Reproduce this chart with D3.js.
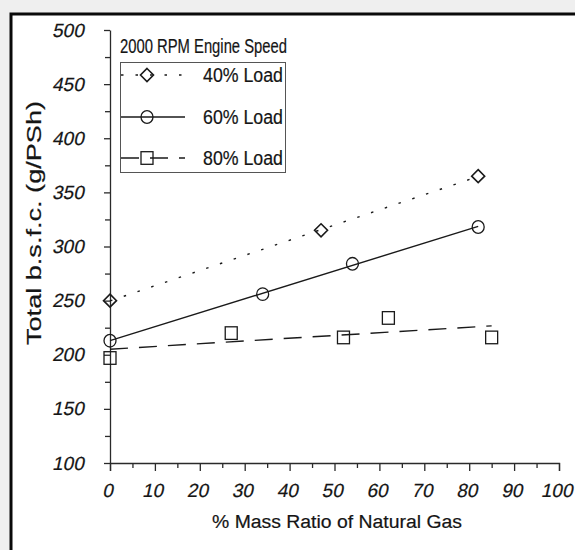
<!DOCTYPE html>
<html>
<head>
<meta charset="utf-8">
<script src="https://cdn.jsdelivr.net/npm/d3@7"></script>
<style>
  html, body { margin: 0; padding: 0; background: #efefef; }
  svg { display: block; }
  text { font-family: "Liberation Sans", Arial, Helvetica, sans-serif; fill: #151515;
         stroke: #151515; stroke-width: 0.2px; }
</style>
</head>
<body>
<svg id="chart" width="575" height="550"></svg>
<script>
// Total brake specific fuel consumption vs natural gas share, 2000 RPM
const seriesNames = ["40% Load", "60% Load", "80% Load"];
const gas40 = [0, 47, 82];
const bsfc40 = [250, 315, 365];
const gas60 = [0, 34, 54, 82];
const bsfc60 = [213, 256, 284, 318];
const gas80 = [0, 27, 52, 62, 85];
const bsfc80 = [197, 220, 216, 234, 216];

const xTickValues = d3.range(0, 101, 5);
const yTickValues = d3.range(100, 501, 25);

const titleText = "2000 RPM Engine Speed";
const xLabel = "% Mass Ratio of Natural Gas";
const yLabel = "Total b.s.f.c. (g/PSh)";

const svg = d3.select("#chart");
const ink = "#1a1a1a";

// page frame
svg.append("rect").attr("x", 11).attr("y", 14).attr("width", 600).attr("height", 600)
  .attr("fill", "#fff").attr("stroke", "#0a0a0a").attr("stroke-width", 3);

const x = d3.scaleLinear().domain([0, 100]).range([110, 559]);
const y = d3.scaleLinear().domain([100, 500]).range([463, 30]);

// y axis
const yAxis = svg.append("g").attr("transform", `translate(${x(0)},0)`)
  .call(d3.axisLeft(y).tickValues(yTickValues).tickSize(6).tickSizeOuter(0).tickPadding(19)
    .tickFormat(d => d % 50 === 0 ? d : ""));
// x axis
const xAxis = svg.append("g").attr("transform", `translate(0,${y(100)})`)
  .call(d3.axisBottom(x).tickValues(xTickValues).tickSizeOuter(0).tickPadding(13)
    .tickSize(8).tickFormat(d => d % 10 === 0 ? d : ""));
xAxis.selectAll(".tick line").attr("y2", d => d % 10 === 0 ? 8 : 5);
yAxis.selectAll(".tick line").attr("x2", d => d % 50 === 0 ? -6 : -5);

[xAxis, yAxis].forEach(g => {
  g.attr("font-size", 19).attr("font-family", '"Liberation Sans", Arial, sans-serif');
  g.select(".domain").attr("stroke", "#2a2a2a").attr("stroke-width", 1.3);
  g.selectAll(".tick line").attr("stroke", "#2a2a2a").attr("stroke-width", 1.3);
  g.selectAll(".tick text").attr("fill", ink);
});

// slanted tick numerals: skew each label about its own anchor point
xAxis.selectAll(".tick text").each(function () {
  const t = d3.select(this);
  const ty = +t.attr("y");
  t.attr("transform", `translate(0,${ty}) skewX(-12) translate(0,${-ty})`);
});
yAxis.selectAll(".tick text").attr("transform", "skewX(-12)");

// axis titles
svg.append("text").attr("x", 337).attr("y", 528).attr("text-anchor", "middle")
  .style("font-size", "18px").attr("textLength", 250).attr("lengthAdjust", "spacingAndGlyphs")
  .text(xLabel);
svg.append("text").attr("transform", "translate(41,223) rotate(-90)").attr("text-anchor", "middle")
  .style("font-size", "20px").attr("textLength", 244).attr("lengthAdjust", "spacingAndGlyphs")
  .text(yLabel);

// least-squares fit of each series
function fit(xs, ys) {
  const mx = d3.mean(xs), my = d3.mean(ys);
  const sxy = d3.sum(xs, (v, i) => (v - mx) * (ys[i] - my));
  const sxx = d3.sum(xs, v => (v - mx) ** 2);
  const b = sxy / sxx, a = my - b * mx;
  const x0 = d3.min(xs), x1 = d3.max(xs);
  return [[x0, a + b * x0], [x1, a + b * x1]];
}

const styles = [
  { xs: gas40, ys: bsfc40, dash: "2.5,12", shape: "diamond" },
  { xs: gas60, ys: bsfc60, dash: null, shape: "circle" },
  { xs: gas80, ys: bsfc80, dash: "18,11", shape: "square" }
];

function marker(g, shape, cx, cy) {
  if (shape === "diamond") {
    const r = 6.5;
    g.append("path").attr("d", `M${cx},${cy - r}L${cx + r},${cy}L${cx},${cy + r}L${cx - r},${cy}Z`)
      .attr("fill", "none").attr("stroke", ink).attr("stroke-width", 1.6);
  } else if (shape === "circle") {
    g.append("ellipse").attr("cx", cx).attr("cy", cy).attr("rx", 6).attr("ry", 6.3)
      .attr("fill", "none").attr("stroke", ink).attr("stroke-width", 1.3);
  } else {
    g.append("rect").attr("x", cx - 6).attr("y", cy - 6.3).attr("width", 12).attr("height", 12.6)
      .attr("fill", "none").attr("stroke", ink).attr("stroke-width", 1.3);
  }
}

const line = d3.line().x(d => x(d[0])).y(d => y(d[1]));
const plot = svg.append("g");
styles.forEach(s => {
  plot.append("path").datum(fit(s.xs, s.ys)).attr("d", line)
    .attr("fill", "none").attr("stroke", ink).attr("stroke-width", 1.4)
    .attr("stroke-dasharray", s.dash);
  s.xs.forEach((v, i) => marker(plot, s.shape, x(v), y(s.ys[i])));
});

// legend
svg.append("text").attr("x", 120).attr("y", 53).style("font-size", "20px")
  .attr("textLength", 167).attr("lengthAdjust", "spacingAndGlyphs").text(titleText);
svg.append("rect").attr("x", 120.5).attr("y", 62.5).attr("width", 165).attr("height", 110)
  .attr("fill", "none").attr("stroke", "#555").attr("stroke-width", 1);
const rowY = [75, 117, 158];
styles.forEach((s, i) => {
  const g = svg.append("g");
  g.append("line").attr("x1", 121).attr("x2", 185).attr("y1", rowY[i]).attr("y2", rowY[i])
    .attr("stroke", ink).attr("stroke-width", 1.3).attr("stroke-dasharray", s.dash);
  marker(g, s.shape, 147, rowY[i]);
  g.append("text").attr("x", 283).attr("y", rowY[i] + 7).attr("text-anchor", "end")
    .style("font-size", "20px").attr("textLength", 80).attr("lengthAdjust", "spacingAndGlyphs")
    .text(seriesNames[i]);
});
</script>
</body>
</html>
